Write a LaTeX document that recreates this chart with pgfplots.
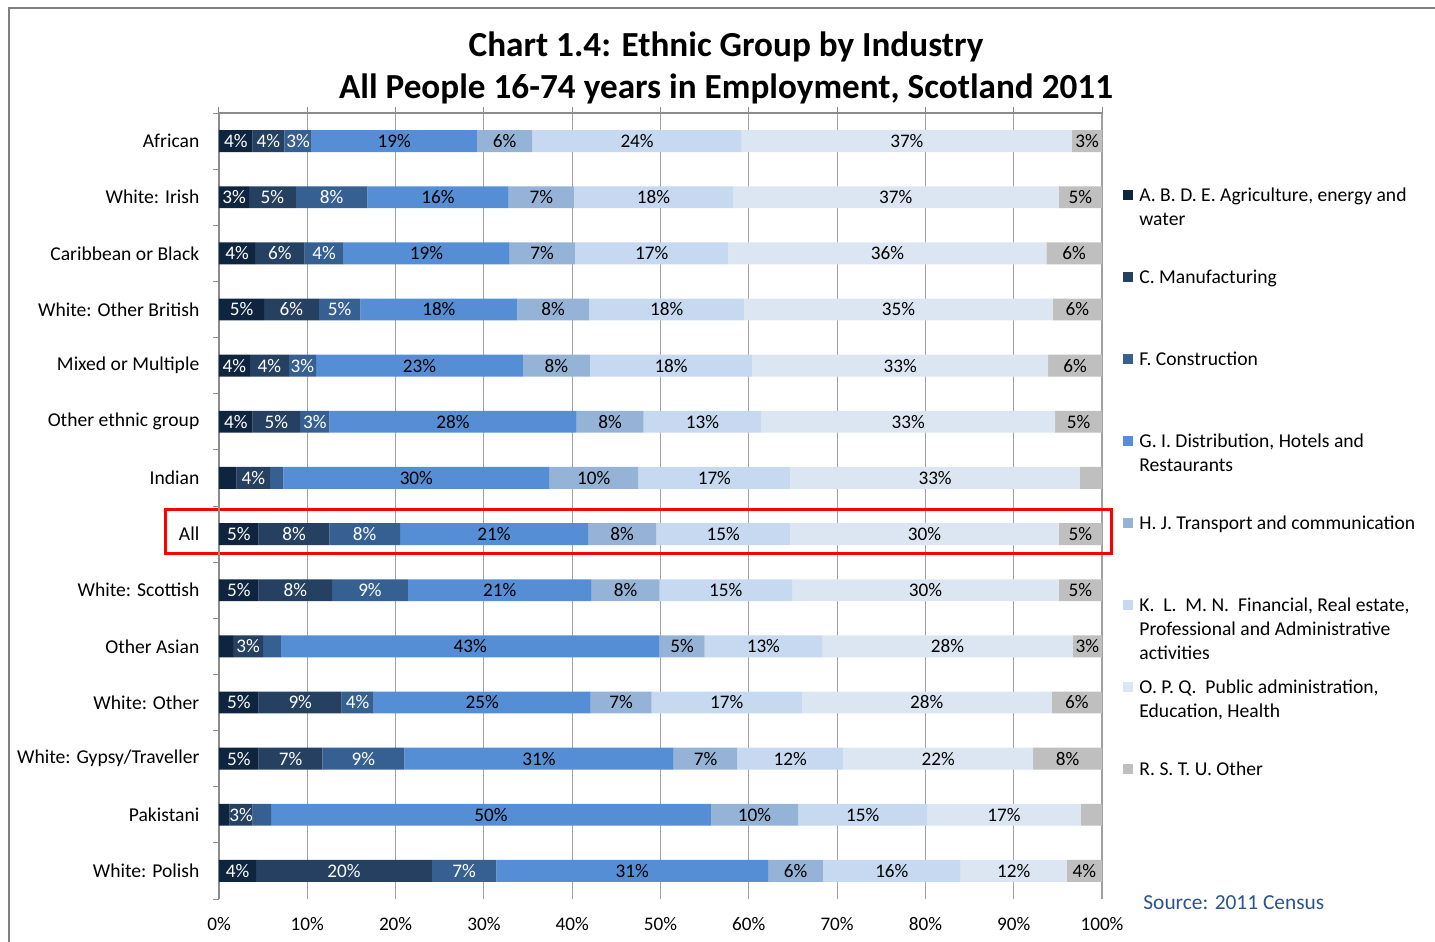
\documentclass[border=0pt]{standalone}
\usepackage{pgfplots}
\pgfplotsset{compat=1.18}
\usepackage{pgfplotstable}
\usepackage{fontspec}
\setmainfont{Carlito}
\newlength\px
\setlength\px{0.5pt}
\definecolor{cA}{HTML}{0F243E}
\definecolor{cB}{HTML}{254061}
\definecolor{cC}{HTML}{376092}
\definecolor{cD}{HTML}{558ED5}
\definecolor{cE}{HTML}{95B3D7}
\definecolor{cF}{HTML}{C6D9F1}
\definecolor{cG}{HTML}{DCE6F2}
\definecolor{cH}{HTML}{BFBFBF}
\definecolor{gridc}{HTML}{A0A0A0}
\definecolor{axisc}{HTML}{8C8C8C}
\definecolor{borderc}{HTML}{808080}
\definecolor{srcblue}{HTML}{2A5391}

\pgfplotstableread{
idx A B C D E F G H lA lB lC lD lE lF lG lH
0  3.8 3.6  3.1 18.7 6.3 23.7 37.4 3.4 4 4 3 19 6 24 37 3
1  3.4 5.3  8.1 16.0 7.4 18.0 36.9 4.9 3 5 8 16 7 18 37 5
2  4.1 5.6  4.4 18.8 7.4 17.4 36.0 6.3 4 6 4 19 7 17 36 6
3  5.1 6.2  4.7 17.8 8.1 17.6 34.9 5.6 5 6 5 18 8 18 35 6
4  3.5 4.4  3.1 23.4 7.6 18.4 33.5 6.1 4 4 3 23 8 18 33 6
5  3.8 5.4  3.3 28.0 7.6 13.3 33.3 5.3 4 5 3 28 8 13 33 5
6  2.0 3.8  1.5 30.1 10.1 17.2 32.8 2.5 0 4 0 30 10 17 33 0
7  4.5 8.0  8.0 21.3 7.7 15.2 30.4 4.9 5 8 8 21 8 15 30 5
8  4.5 8.3  8.6 20.8 7.7 15.0 30.2 4.9 5 8 9 21 8 15 30 5
9  1.6 3.4  2.0 42.9 5.1 13.3 28.4 3.3 0 3 0 43 5 13 28 3
10 4.5 9.4  3.6 24.6 6.9 17.0 28.3 5.7 5 9 4 25 7 17 28 6
11 4.5 7.2  9.3 30.5 7.2 12.0 21.5 7.8 5 7 9 31 7 12 22 8
12 1.2 2.6  2.1 49.8 9.9 14.6 17.4 2.4 0 3 0 50 10 15 17 0
13 4.2 19.9 7.3 30.8 6.2 15.6 12.0 4.0 4 20 7 31 6 16 12 4
}\ethdata

\pgfplotsset{
  seg/.style n args={2}{
    fill=#1, draw=none,
    every node near coord/.append style={text=#2},
  },
}
% legend entry: baseline (px above axis bottom), colour, text
\newcommand\legitem[3]{%
  \fill[#2] ({904.3\px},{#1\px+1\px}) rectangle ({914.3\px},{#1\px+11\px});
  \node[anchor=base west, inner sep=0pt, font=\fontsize{9.8}{12}\selectfont] at ({920\px},{#1\px}) {\parbox[t]{300\px}{\raggedright #3}};
}

\begin{document}
\begin{tikzpicture}
\path[use as bounding box] (-219\px,-43\px) rectangle (1216\px,899\px);
\draw[color=borderc, line width=1.5\px] (-210\px,-50\px) -- (-210\px,891\px) -- (1230\px,891\px);
\begin{axis}[
  at={(0,0)}, anchor=south west,
  scale only axis, width=883\px, height=786\px,
  xbar stacked, bar width=0.39,
  xmin=0, xmax=100, ymin=-0.5, ymax=13.5, y dir=reverse,
  clip=false,
  axis line style={draw=none},
  xtick={0,10,...,100},
  xticklabels={0\%,10\%,20\%,30\%,40\%,50\%,60\%,70\%,80\%,90\%,100\%},
  ytick={0,...,13},
  yticklabels={African,White: Irish,Caribbean or Black,White: Other British,Mixed or Multiple,Other ethnic group,Indian,All,White: Scottish,Other Asian,White: Other,White: Gypsy/Traveller,Pakistani,White: Polish},
  minor ytick={-0.5,0.5,...,13.5},
  minor xtick={0,10,...,100},
  tick align=outside, xtick pos=right, ytick pos=left, xticklabel pos=left,
  major tick length=0pt, minor tick length=6\px,
  every minor tick/.append style={draw=axisc, line width=1\px},
  xmajorgrids,
  major grid style={draw=gridc, line width=1.2\px},
  tick label style={font=\fontsize{9.6}{11.5}\selectfont, text=black},
  yticklabel style={xshift=-12.6\px, font=\fontsize{9.8}{11.5}\selectfont},
  xticklabel style={yshift=-11.6\px},
  point meta=explicit symbolic,
  nodes near coords={\ifnum\pgfplotspointmeta=0\relax\else\pgfplotspointmeta\%\fi},
  every node near coord/.append style={anchor=center, font=\fontsize{9.6}{11.5}\selectfont},
]
\addplot[seg={cA}{white}] table[x=A,y=idx,meta=lA] {\ethdata};
\addplot[seg={cB}{white}] table[x=B,y=idx,meta=lB] {\ethdata};
\addplot[seg={cC}{white}] table[x=C,y=idx,meta=lC] {\ethdata};
\addplot[seg={cD}{black}] table[x=D,y=idx,meta=lD] {\ethdata};
\addplot[seg={cE}{black}] table[x=E,y=idx,meta=lE] {\ethdata};
\addplot[seg={cF}{black}] table[x=F,y=idx,meta=lF] {\ethdata};
\addplot[seg={cG}{black}] table[x=G,y=idx,meta=lG] {\ethdata};
\addplot[seg={cH}{black}] table[x=H,y=idx,meta=lH] {\ethdata};
\draw[axisc, line width=1.2\px] (axis cs:0,-0.5) -- (axis cs:100,-0.5);
\draw[axisc, line width=1.2\px] (axis cs:0,-0.5) -- (axis cs:0,13.5);
\draw[red, line width=3\px] (axis cs:-6.1,6.554) rectangle (axis cs:101.1,7.337);
\end{axis}
\legitem{697.5}{cA}{A. B. D. E. Agriculture, energy and\\water}
\legitem{615.5}{cB}{C. Manufacturing}
\legitem{533.5}{cC}{F. Construction}
\legitem{451.5}{cD}{G. I. Distribution, Hotels and\\Restaurants}
\legitem{369.5}{cE}{H. J. Transport and communication}
\legitem{287.5}{cF}{K.~~L.~~M. N.~~Financial, Real estate,\\Professional and Administrative\\activities}
\legitem{205.5}{cG}{O. P. Q.~~Public administration,\\Education, Health}
\legitem{123.5}{cH}{R. S. T. U. Other}
\node[anchor=base, font=\fontsize{17.6}{21}\selectfont\bfseries] at (507\px,842\px) {Chart 1.4: Ethnic Group by Industry};
\node[anchor=base, font=\fontsize{17.6}{21}\selectfont\bfseries] at (507\px,800\px) {All People 16-74 years in Employment, Scotland 2011};
\node[anchor=west, text=srcblue, font=\fontsize{10.7}{13}\selectfont, inner sep=0pt] at (924\px,-4\px) {Source: 2011 Census};
\end{tikzpicture}
\end{document}
